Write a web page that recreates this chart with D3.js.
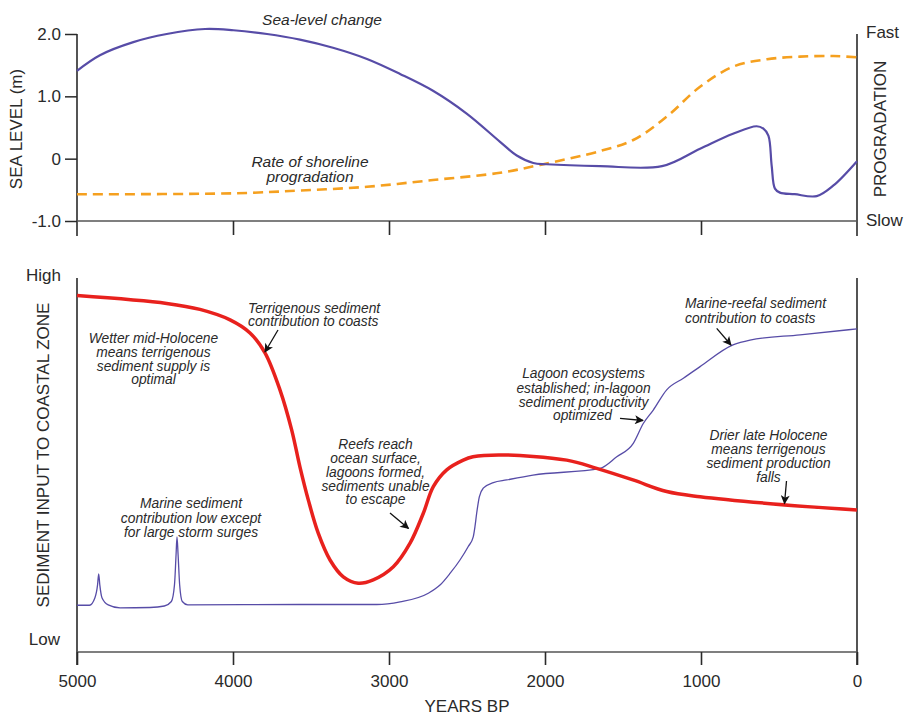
<!DOCTYPE html>
<html><head><meta charset="utf-8">
<script src="https://cdn.jsdelivr.net/npm/d3@7"></script>
<style>
body{margin:0;background:#fff}
svg{display:block}
text{font-family:"Liberation Sans",Arial,Helvetica,sans-serif;fill:#2a2a2a}
</style>
</head><body>
<svg id="chart" width="904" height="715"></svg>
<script>
// ---------- DATA ----------
const yearTicks = [5000, 4000, 3000, 2000, 1000, 0];
const seaLevelTicks = [2.0, 1.0, 0, -1.0];
const seaLevelTickLabels = ["2.0", "1.0", "0", "-1.0"];

// Sea-level change (m)
const seaYears = [5000, 4853, 4639, 4425, 4179, 3997, 3782, 3571, 3359, 3141, 2929, 2718, 2500, 2288, 2181, 2075, 1990, 1647, 1250, 1006, 795, 643, 600, 568, 547, 526, 494, 400, 258, 151, 0];
const seaLevel = [1.41, 1.66, 1.87, 2.00, 2.08, 2.06, 2.00, 1.91, 1.78, 1.60, 1.36, 1.09, 0.72, 0.27, 0.05, -0.07, -0.09, -0.12, -0.12, 0.16, 0.40, 0.52, 0.48, 0.37, -0.11, -0.48, -0.545, -0.57, -0.60, -0.43, -0.04];

// Rate of shoreline progradation (0 = slow, 1 = fast)
const progYears = [5000, 4000, 3571, 3141, 2718, 2288, 2032, 1647, 1434, 1220, 1006, 795, 577, 365, 151, 0];
const progRate = [0.143, 0.148, 0.163, 0.183, 0.219, 0.258, 0.30, 0.374, 0.433, 0.558, 0.718, 0.825, 0.865, 0.879, 0.882, 0.875];

// Terrigenous sediment input (0 = low, 100 = high)
const terrYears = [5000, 4425, 4212, 4019, 3891, 3795, 3699, 3624, 3571, 3517, 3453, 3378, 3293, 3197, 3101, 2972, 2865, 2780, 2716, 2630, 2524, 2462, 2288, 1861, 1669, 1436, 1220, 1006, 537, 0];
const terrInput = [95.3, 93.2, 91.6, 88.8, 85.3, 80.0, 70.1, 59.4, 49.5, 40.6, 31.7, 24.6, 20.1, 18.4, 19.3, 22.8, 29.1, 37.1, 44.2, 48.7, 51.3, 52.2, 52.7, 51.3, 49.1, 46.0, 42.9, 41.5, 39.6, 38.0];

// Marine sediment input (0 = low, 100 = high)
const marineYears = [5000, 4920, 4885, 4868, 4861, 4854, 4840, 4800, 4724, 4532, 4440, 4395, 4375, 4365, 4359, 4352, 4342, 4325, 4290, 3571, 3079, 2929, 2748, 2673, 2609, 2545, 2492, 2460, 2449, 2438, 2421, 2396, 2331, 2246, 2077, 1647, 1540, 1434, 1370, 1306, 1220, 1113, 1006, 795, 686, 365, 0];
const marineInput = [12.5, 12.5, 14.5, 18, 20.9, 18, 14.5, 12.6, 11.8, 11.9, 12.3, 13.5, 18, 26, 30.8, 26, 18, 13.5, 12.6, 12.7, 12.7, 13.4, 15.7, 17.9, 21.0, 24.6, 28.2, 30.8, 33.5, 37.1, 41.5, 43.8, 45.3, 46.0, 47.3, 49.1, 52.2, 55.8, 61.1, 64.7, 70.1, 73.2, 76.3, 82.1, 83.4, 84.8, 86.4];

// ---------- SETUP ----------
const svg = d3.select("#chart");
const x = d3.scaleLinear().domain([5000, 0]).range([77, 857]);
const ySea = d3.scaleLinear().domain([-1, 2]).range([221, 34]);
const yProg = d3.scaleLinear().domain([0, 1]).range([221, 34]);
const ySed = d3.scaleLinear().domain([0, 100]).range([652, 278]);

const axisColor = "#2a2a2a";
const defs = svg.append("defs");
defs.append("marker").attr("id", "arrow")
  .attr("viewBox", "0 0 10 10").attr("refX", 9).attr("refY", 5)
  .attr("markerUnits", "userSpaceOnUse").attr("markerWidth", 10).attr("markerHeight", 9)
  .attr("orient", "auto")
  .append("path").attr("d", "M0,0 L10,5 L0,10 L2.5,5 z").attr("fill", "#111");

function zipped(xs, ys) { return xs.map((d, i) => [d, ys[i]]); }
function multiText(g, lines, xPos, baselines, anchor, size) {
  const t = g.append("text").attr("font-size", size).attr("font-style", "italic").attr("text-anchor", anchor).attr("fill", "#333");
  lines.forEach((l, i) => t.append("tspan").attr("x", xPos).attr("y", baselines[i]).text(l));
  return t;
}
const smooth = d3.curveCatmullRom.alpha(0.5);

// ---------- TOP PANEL ----------
const topG = svg.append("g");
topG.append("line").attr("x1", 77).attr("x2", 77).attr("y1", 34).attr("y2", 236).attr("stroke", axisColor).attr("stroke-width", 1.6);
topG.append("line").attr("x1", 857).attr("x2", 857).attr("y1", 34).attr("y2", 236).attr("stroke", axisColor).attr("stroke-width", 1.6);
topG.append("line").attr("x1", 77).attr("x2", 857).attr("y1", 221).attr("y2", 221).attr("stroke", "#555").attr("stroke-width", 1.5);

const leftAxis = d3.axisLeft(ySea).tickValues(seaLevelTicks)
  .tickFormat((d, i) => seaLevelTickLabels[i]).tickSize(12).tickPadding(4).tickSizeOuter(0);
const gl = topG.append("g").attr("transform", "translate(77,0)").call(leftAxis);
gl.select(".domain").remove();
gl.selectAll(".tick line").attr("stroke", axisColor).attr("stroke-width", 1.5);
gl.selectAll(".tick text").attr("font-size", 17).attr("fill", "#2a2a2a").style("font-family", '"Liberation Sans",Arial,sans-serif');

const topX = d3.axisBottom(x).tickValues(yearTicks.slice(1, -1)).tickSize(14).tickFormat("");
const gtx = topG.append("g").attr("transform", "translate(0,221)").call(topX);
gtx.select(".domain").remove();
gtx.selectAll(".tick line").attr("stroke", axisColor).attr("stroke-width", 1.6);

topG.append("text").attr("transform", "translate(18,129) rotate(-90)").attr("text-anchor", "middle").attr("dominant-baseline", "middle").attr("font-size", 17).text("SEA LEVEL (m)");
topG.append("text").attr("transform", "translate(882,129) rotate(-90)").attr("text-anchor", "middle").attr("dominant-baseline", "middle").attr("font-size", 17).text("PROGRADATION");
topG.append("text").attr("x", 866).attr("y", 34).attr("dominant-baseline", "middle").attr("font-size", 17).text("Fast");
topG.append("text").attr("x", 866).attr("y", 222).attr("dominant-baseline", "middle").attr("font-size", 17).text("Slow");

topG.append("path").datum(zipped(progYears, progRate))
  .attr("d", d3.line().x(d => x(d[0])).y(d => yProg(d[1])).curve(smooth))
  .attr("fill", "none").attr("stroke", "#f5a01f").attr("stroke-width", 2.6).attr("stroke-dasharray", "10,6");
topG.append("path").datum(zipped(seaYears, seaLevel))
  .attr("d", d3.line().x(d => x(d[0])).y(d => ySea(d[1])).curve(smooth))
  .attr("fill", "none").attr("stroke", "#574ca7").attr("stroke-width", 2.2);

multiText(topG, ["Sea-level change"], 322, [25], "middle", 15.5);
multiText(topG, ["Rate of shoreline", "progradation"], 310, [166.5, 182], "middle", 15.5);

// ---------- BOTTOM PANEL ----------
const botG = svg.append("g");
botG.append("line").attr("x1", 77).attr("x2", 77).attr("y1", 278).attr("y2", 665).attr("stroke", axisColor).attr("stroke-width", 1.6);
botG.append("line").attr("x1", 857).attr("x2", 857).attr("y1", 278).attr("y2", 665).attr("stroke", axisColor).attr("stroke-width", 1.6);
botG.append("line").attr("x1", 77).attr("x2", 857).attr("y1", 652).attr("y2", 652).attr("stroke", "#555").attr("stroke-width", 1.5);

const botX = d3.axisBottom(x).tickValues(yearTicks).tickSize(13).tickPadding(10).tickFormat(d3.format("d"));
const gbx = botG.append("g").attr("transform", "translate(0,652)").call(botX);
gbx.select(".domain").remove();
gbx.selectAll(".tick line").attr("stroke", axisColor).attr("stroke-width", 1.6);
gbx.selectAll(".tick text").attr("font-size", 17).attr("fill", "#2a2a2a").style("font-family", '"Liberation Sans",Arial,sans-serif');

botG.append("text").attr("x", 467).attr("y", 712).attr("text-anchor", "middle").attr("font-size", 17).text("YEARS BP");
botG.append("text").attr("transform", "translate(45,455) rotate(-90)").attr("text-anchor", "middle").attr("dominant-baseline", "middle").attr("font-size", 17).text("SEDIMENT INPUT TO COASTAL ZONE");
botG.append("text").attr("x", 61).attr("y", 277).attr("text-anchor", "end").attr("dominant-baseline", "middle").attr("font-size", 17).text("High");
botG.append("text").attr("x", 60).attr("y", 641).attr("text-anchor", "end").attr("dominant-baseline", "middle").attr("font-size", 17).text("Low");

botG.append("path").datum(zipped(marineYears, marineInput))
  .attr("d", d3.line().x(d => x(d[0])).y(d => ySed(d[1])).curve(d3.curveMonotoneX))
  .attr("fill", "none").attr("stroke", "#574ca7").attr("stroke-width", 1.3);
botG.append("path").datum(zipped(terrYears, terrInput))
  .attr("d", d3.line().x(d => x(d[0])).y(d => ySed(d[1])).curve(smooth))
  .attr("fill", "none").attr("stroke", "#e8211d").attr("stroke-width", 3.5);

const fs = 13.8;
multiText(botG, ["Terrigenous sediment", "contribution to coasts"], 248, [312.5, 326], "start", fs);
multiText(botG, ["Wetter mid-Holocene", "means terrigenous", "sediment supply is", "optimal"], 153.5, [343.3, 356.8, 370.5, 384], "middle", fs);
multiText(botG, ["Reefs reach", "ocean surface,", "lagoons formed,", "sediments unable", "to escape"], 375.5, [449.3, 463, 476.7, 490.5, 504], "middle", fs);
multiText(botG, ["Marine sediment", "contribution low except", "for large storm surges"], 191, [508.3, 522.5, 536.7], "middle", fs);
multiText(botG, ["Lagoon ecosystems", "established; in-lagoon", "sediment productivity"], 583.5, [378.3, 392.5, 406.5], "middle", fs);
multiText(botG, ["optimized"], 582.5, [420], "middle", fs);
multiText(botG, ["Marine-reefal sediment", "contribution to coasts"], 685, [308.3, 322.7], "start", fs);
multiText(botG, ["Drier late Holocene", "means terrigenous", "sediment production", "falls"], 768.5, [440, 454, 468.3, 482], "middle", fs);

const arrows = [
  [278, 330, 265, 352],
  [390, 513, 408.5, 528.5],
  [620, 418.3, 643, 420.5],
  [716.7, 328.3, 731, 345],
  [786.5, 481, 784.5, 503.5]
];
botG.selectAll("line.arrow").data(arrows).enter().append("line").attr("class", "arrow")
  .attr("x1", d => d[0]).attr("y1", d => d[1]).attr("x2", d => d[2]).attr("y2", d => d[3])
  .attr("stroke", "#111").attr("stroke-width", 1.3).attr("marker-end", "url(#arrow)");
</script>
</body></html>
